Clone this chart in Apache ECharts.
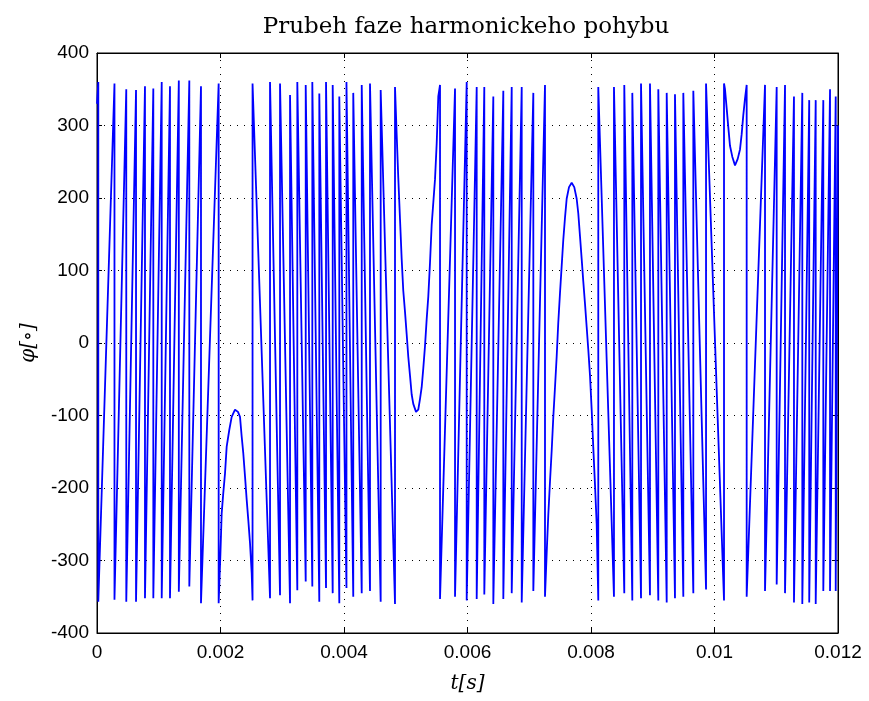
<!DOCTYPE html>
<html>
<head>
<meta charset="utf-8">
<script src="https://cdn.jsdelivr.net/npm/echarts@6/dist/echarts.min.js"></script>
<style>
  html, body { margin: 0; padding: 0; background: #fff; }
  #chart { width: 869px; height: 701px; }
</style>
</head>
<body>
<div id="chart"></div>
<script>
// time in ms, phase in degrees

// start / end of the record
const startT = 0, startPhi = 330
const endT = 12.0, endPhi = 300

// 0 .. 0.002 s : rising teeth (wrap top -> bottom)
const riseA_t   = [0.021, 0.283, 0.474, 0.632, 0.777, 0.912, 1.048, 1.182, 1.325, 1.495, 1.684, 1.970]
const riseA_top = [360, 358, 350, 349, 354, 351, 360, 354, 362, 362, 354, 358]
const riseA_bot = [-357, -354, -357, -357, -352, -352, -352, -352, -343, -336, -359, -359]

// first slow hump (peak about -92)
const hump1_t   = [1.999, 2.019, 2.045, 2.073, 2.100, 2.142, 2.181, 2.235, 2.283, 2.316, 2.343, 2.369, 2.397, 2.424, 2.450, 2.478, 2.505]
const hump1_phi = [-290, -235, -207, -180, -143, -120, -102, -92, -95, -102, -129, -152, -184, -216, -244, -276, -317]

// falling teeth (wrap bottom -> top)
const fallB_t   = [2.519, 2.802, 2.964, 3.126, 3.244, 3.380, 3.487, 3.600, 3.709, 3.817, 3.924, 4.040, 4.150, 4.287, 4.421, 4.594, 4.826]
const fallB_bot = [-355, -352, -348, -359, -341, -329, -336, -357, -338, -345, -359, -338, -350, -345, -342, -357, -360]
const fallB_top = [358, 360, 358, 342, 360, 356, 360, 344, 360, 356, 340, 360, 345, 356, 358, 349, 353]

// second hump (valley about -95)
const hump2_t   = [4.853, 4.879, 4.907, 4.934, 4.960, 4.988, 5.015, 5.041, 5.069, 5.096, 5.122, 5.166, 5.203, 5.231, 5.258, 5.284, 5.312, 5.339, 5.365, 5.393, 5.420, 5.474, 5.501, 5.527]
const hump2_phi = [288, 228, 171, 116, 72, 43, 12, -19, -45, -71, -84, -95, -92, -77, -61, -35, -4, 33, 64, 111, 163, 226, 275, 340]

// rising teeth
const riseC_t   = [5.555, 5.798, 5.987, 6.149, 6.272, 6.418, 6.580, 6.716, 6.878, 7.066, 7.255]
const riseC_top = [356, 351, 360, 353, 353, 340, 348, 353, 353, 345, 356]
const riseC_bot = [-353, -350, -355, -353, -347, -360, -353, -345, -358, -342, -350]

// third hump (peak about 221)
const hump3_t   = [7.287, 7.308, 7.336, 7.363, 7.389, 7.417, 7.444, 7.470, 7.498, 7.525, 7.551, 7.579, 7.606, 7.644, 7.687, 7.729, 7.768, 7.794, 7.822, 7.849, 7.875, 7.903, 7.930, 7.956, 7.984, 8.011, 8.037, 8.065, 8.092]
const hump3_phi = [-280, -238, -191, -149, -103, -61, -19, 28, 69, 106, 142, 173, 199, 215, 221, 215, 199, 179, 147, 116, 85, 54, 22, -9, -45, -92, -144, -196, -250]

// falling teeth
const fallD_t   = [8.118, 8.372, 8.539, 8.669, 8.810, 8.955, 9.090, 9.226, 9.360, 9.495, 9.657, 9.863, 10.154]
const fallD_bot = [-355, -350, -345, -355, -352, -348, -355, -358, -352, -350, -345, -340, -355]
const fallD_top = [353, 353, 356, 345, 358, 358, 350, 345, 343, 345, 348, 358, 358]

// fourth hump (valley about 245)
const hump4_t   = [10.170, 10.197, 10.223, 10.251, 10.288, 10.332, 10.376, 10.413, 10.440, 10.466, 10.494]
const hump4_phi = [350, 324, 298, 272, 257, 245, 254, 267, 288, 314, 337]

// rising teeth up to the end
const riseE_t   = [10.521, 10.818, 11.007, 11.142, 11.287, 11.422, 11.534, 11.639, 11.762, 11.871, 11.963]
const riseE_top = [356, 356, 353, 356, 340, 345, 335, 335, 335, 350, 340]
const riseE_bot = [-350, -342, -333, -345, -358, -360, -358, -360, -342, -342, -342]

const xTicks = [0, 0.002, 0.004, 0.006, 0.008, 0.01, 0.012]
const yTicks = [-400, -300, -200, -100, 0, 100, 200, 300, 400]

let points = []
function addWraps(ts, before, after) {
  for (let i = 0; i < ts.length; i++) {
    points.push([ts[i] / 1000, before[i]])
    points.push([ts[i] / 1000, after[i]])
  }
}
function addCurve(ts, phis) {
  for (let i = 0; i < ts.length; i++) {
    points.push([ts[i] / 1000, phis[i]])
  }
}

points.push([startT / 1000, startPhi])
addWraps(riseA_t, riseA_top, riseA_bot)
addCurve(hump1_t, hump1_phi)
addWraps(fallB_t, fallB_bot, fallB_top)
addCurve(hump2_t, hump2_phi)
addWraps(riseC_t, riseC_top, riseC_bot)
addCurve(hump3_t, hump3_phi)
addWraps(fallD_t, fallD_bot, fallD_top)
addCurve(hump4_t, hump4_phi)
addWraps(riseE_t, riseE_top, riseE_bot)
points.push([endT / 1000, endPhi])

const labelFont = "'Liberation Sans Narrow', 'Liberation Sans', Arial, sans-serif"
const gridDots = { color: '#000', width: 1, type: [1, 6] }
const boxLine = { onZero: false, show: true, lineStyle: { color: '#000', width: 1 } }
const inTicks = { show: true, inside: true, length: 5, lineStyle: { color: '#000' } }

const chart = echarts.init(document.getElementById('chart'), null, { renderer: 'canvas' })
chart.setOption({
  animation: false,
  backgroundColor: '#fff',
  title: {
    text: 'Prubeh faze harmonickeho pohybu',
    left: 461,
    top: 11,
    textAlign: 'center',
    textStyle: {
      fontFamily: "'DejaVu Serif', serif",
      fontWeight: 'normal',
      fontSize: 23,
      color: '#000'
    }
  },
  grid: {
    left: 97,
    right: 31,
    top: 53,
    bottom: 68,
    show: true,
    borderColor: '#000',
    borderWidth: 1,
    backgroundColor: '#fff'
  },
  xAxis: [
    {
      type: 'value',
      position: 'bottom',
      min: xTicks[0],
      max: xTicks[xTicks.length - 1],
      interval: 0.002,
      name: 't[s]',
      nameLocation: 'middle',
      nameGap: 41,
      nameTextStyle: { fontFamily: "'DejaVu Serif', serif", fontStyle: 'italic', fontSize: 20, color: '#000' },
      axisLine: boxLine,
      axisTick: inTicks,
      axisLabel: {
        margin: 10,
        fontFamily: labelFont,
        fontSize: 19,
        color: '#000',
        formatter: v => String(+v.toFixed(3))
      },
      splitLine: { show: true, lineStyle: gridDots }
    },
    {
      type: 'value',
      position: 'top',
      min: xTicks[0],
      max: xTicks[xTicks.length - 1],
      interval: 0.002,
      axisLine: boxLine,
      axisTick: inTicks,
      axisLabel: { show: false },
      splitLine: { show: false }
    }
  ],
  yAxis: [
    {
      type: 'value',
      position: 'left',
      min: yTicks[0],
      max: yTicks[yTicks.length - 1],
      interval: 100,
      name: 'φ[∘]',
      nameLocation: 'middle',
      nameRotate: 90,
      nameGap: 58,
      nameTextStyle: { fontFamily: "'DejaVu Serif', serif", fontStyle: 'italic', fontSize: 20, color: '#000' },
      axisLine: boxLine,
      axisTick: inTicks,
      axisLabel: { margin: 8, fontFamily: labelFont, fontSize: 19, color: '#000' },
      splitLine: { show: true, lineStyle: gridDots }
    },
    {
      type: 'value',
      position: 'right',
      min: yTicks[0],
      max: yTicks[yTicks.length - 1],
      interval: 100,
      axisLine: boxLine,
      axisTick: inTicks,
      axisLabel: { show: false },
      splitLine: { show: false }
    }
  ],
  series: [
    {
      type: 'line',
      xAxisIndex: 0,
      yAxisIndex: 0,
      data: points,
      showSymbol: false,
      symbol: 'none',
      sampling: null,
      lineStyle: { color: '#0000ff', width: 1.8 },
      silent: true
    }
  ]
})
</script>
</body>
</html>
